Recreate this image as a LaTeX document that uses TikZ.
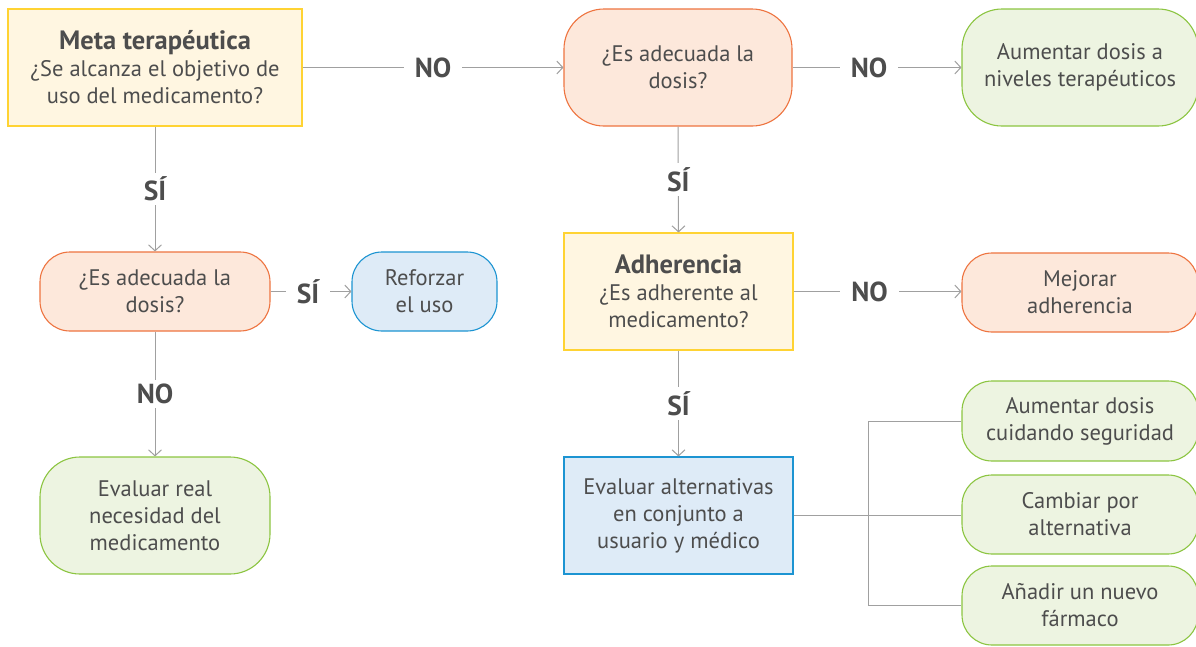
\documentclass[tikz,border=0pt]{standalone}
\usepackage{fontspec}
\setmainfont{PT Sans}
\usetikzlibrary{arrows.meta}
\definecolor{txt}{HTML}{4D4D4D}
\definecolor{ln}{HTML}{A0A0A0}
\definecolor{yfill}{HTML}{FFF6E1}
\definecolor{ydraw}{HTML}{FFD333}
\definecolor{pfill}{HTML}{FDE8DB}
\definecolor{pdraw}{HTML}{EE7440}
\definecolor{gfill}{HTML}{EDF4E1}
\definecolor{gdraw}{HTML}{8CC541}
\definecolor{bfill}{HTML}{DEEBF7}
\definecolor{bdraw}{HTML}{1C94D2}
\newcommand{\ttlfont}{\fontsize{26.5}{28}\selectfont\bfseries}
\begin{document}
\begin{tikzpicture}[x=1pt,y=-1pt,
  every node/.style={text=txt, font=\fontsize{22.5}{27}\selectfont, align=center, inner sep=0pt},
  base/.style={line width=1.1pt},
  ybox/.style={base, draw=ydraw, fill=yfill},
  bbox/.style={base, draw=bdraw, fill=bfill},
  pround/.style={base, draw=pdraw, fill=pfill, rounded corners=#1},
  ground/.style={base, draw=gdraw, fill=gfill, rounded corners=#1},
  bround/.style={base, draw=bdraw, fill=bfill, rounded corners=#1},
  arr/.style={draw=ln, line width=1pt, -{Straight Barb[length=6pt,width=13pt,line width=1pt]}},
  conn/.style={draw=ln, line width=1pt},
  lbl/.style={fill=white, inner xsep=11pt, inner ysep=4pt, font=\fontsize{27.5}{30}\selectfont\bfseries}
]
\useasboundingbox (0,0) rectangle (1196,646);
\fill[white] (0,0) rectangle (1196,646);

% boxes
\node[ybox, minimum width=294pt, minimum height=117pt] (meta) at (155,67.5)
  {{\ttlfont Meta terapéutica}\\¿Se alcanza el objetivo de\\uso del medicamento?};
\node[pround=40pt, minimum width=228pt, minimum height=117pt] (dos1) at (678,67.5)
  {¿Es adecuada la\\dosis?};
\node[ground=40pt, minimum width=236pt, minimum height=117pt] (aum) at (1080,67.5)
  {Aumentar dosis a\\niveles terapéuticos};

\node[pround=30pt, minimum width=230pt, minimum height=79pt] (dos2) at (155,291.5)
  {¿Es adecuada la\\dosis?};
\node[bround=30pt, minimum width=145pt, minimum height=79pt] (ref) at (424.5,291.5)
  {Reforzar\\el uso};
\node[ground=40pt, minimum width=230pt, minimum height=117pt] (eval) at (155,515.5)
  {Evaluar real\\necesidad del\\medicamento};

\node[ybox, minimum width=229pt, minimum height=117pt] (adh) at (678.5,291.5)
  {{\ttlfont Adherencia}\\¿Es adherente al\\medicamento?};
\node[pround=30pt, minimum width=236pt, minimum height=79pt] (mej) at (1080,292.5)
  {Mejorar\\adherencia};
\node[bbox, minimum width=229pt, minimum height=117pt] (alt) at (678.5,515.5)
  {Evaluar alternativas\\en conjunto a\\usuario y médico};

\node[ground=30pt, minimum width=236pt, minimum height=80pt] (g1) at (1080,421)
  {Aumentar dosis\\cuidando seguridad};
\node[ground=30pt, minimum width=236pt, minimum height=79pt] (g2) at (1080,514.5)
  {Cambiar por\\alternativa};
\node[ground=30pt, minimum width=236pt, minimum height=79pt] (g3) at (1080,605.5)
  {Añadir un nuevo\\fármaco};

% connectors
\draw[arr] (meta.east) -- node[lbl]{NO} (dos1.west);
\draw[arr] (dos1.east) -- node[lbl, xshift=-8pt]{NO} (aum.west);
\draw[arr] (meta.south) -- node[lbl]{SÍ} (dos2.north);
\draw[arr] (dos2.east) -- node[lbl, xshift=-3pt]{SÍ} (ref.west);
\draw[arr] (dos2.south) -- node[lbl]{NO} (eval.north);
\draw[arr] (dos1.south) -- node[lbl]{SÍ} (adh.north);
\draw[arr] (adh.east) -- node[lbl, xshift=-8pt]{NO} (mej.west |- adh.east);
\draw[arr] (adh.south) -- node[lbl]{SÍ} (alt.north);

\coordinate (br) at (868,515.5);
\draw[conn] (alt.east) -- (g2.west |- alt.east);
\draw[conn] (g1.west) -- (br |- g1.west) -- (br |- g3.west) -- (g3.west);
\end{tikzpicture}
\end{document}
